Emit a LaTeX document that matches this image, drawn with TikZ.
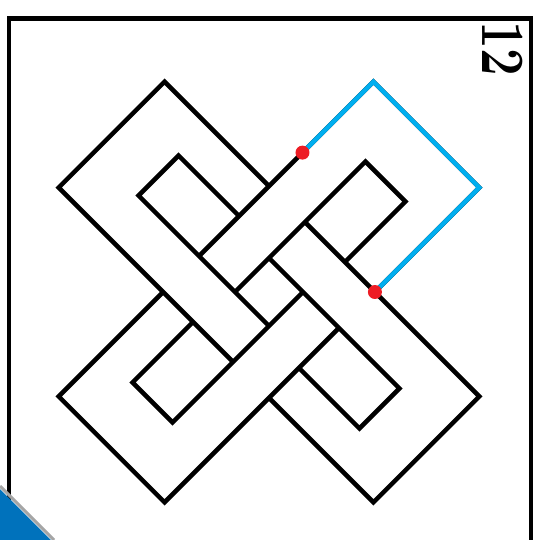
\documentclass[tikz,border=0pt]{standalone}
\usepackage{tikz}

\definecolor{routeblue}{RGB}{0,174,239}
\definecolor{dotred}{RGB}{237,28,36}
\definecolor{badgeblue}{RGB}{0,114,188}
\definecolor{badgegrey}{RGB}{165,165,165}

\begin{document}
\begin{tikzpicture}[x=0.02cm, y=-0.02cm,
  knot/.style={line width=0.09cm, line join=miter},
  route/.style={knot, draw=routeblue},
  dot/.style={circle, fill=dotred, inner sep=0pt, minimum size=0.28cm}]
  \useasboundingbox (0,0) rectangle (533,540);
  \clip (0,0) rectangle (533,540);
  % page frame and page number
  \draw[line width=0.1cm] (9,600) -- (9,19) -- (531,19) -- (531,600);
  \node[rotate=-90, xscale=0.8, inner sep=0pt, font=\fontsize{35}{35}\selectfont\bfseries] (pagenum) at (503,49) {12};
  % knot: one arm, turned four times round the centre
  \coordinate (centre) at (269,292);
  \foreach \turn in {0,1,2,3}{
    \begin{scope}[shift={(centre)}, rotate=-90*\turn, x={(0.01cm,-0.01cm)}, y={(0.01cm,0.01cm)}]
      \draw[knot] (-106,106) -- (-315,106) -- (-315,-106) -- (34,-106);
      \draw[knot] (-106,46) -- (-227,46) -- (-227,-34) -- (34,-34);
    \end{scope}
  }
  % marked stretch of the band
  \begin{scope}[shift={(centre)}, x={(0.01cm,-0.01cm)}, y={(0.01cm,0.01cm)}]
    \coordinate (enter) at (-106,173);
    \coordinate (leave) at (106,106);
    \draw[route] (enter) -- (-106,315) -- (106,315) -- (leave);
    \node[dot] (enterdot) at (enter) {};
    \node[dot] (leavedot) at (leave) {};
  \end{scope}
  % corner badge
  \fill[badgeblue] (0,489) -- (51,540) -- (0,540) -- cycle;
  \draw[badgegrey, line width=0.06cm] (0,486) -- (54,540);
\end{tikzpicture}
\end{document}
